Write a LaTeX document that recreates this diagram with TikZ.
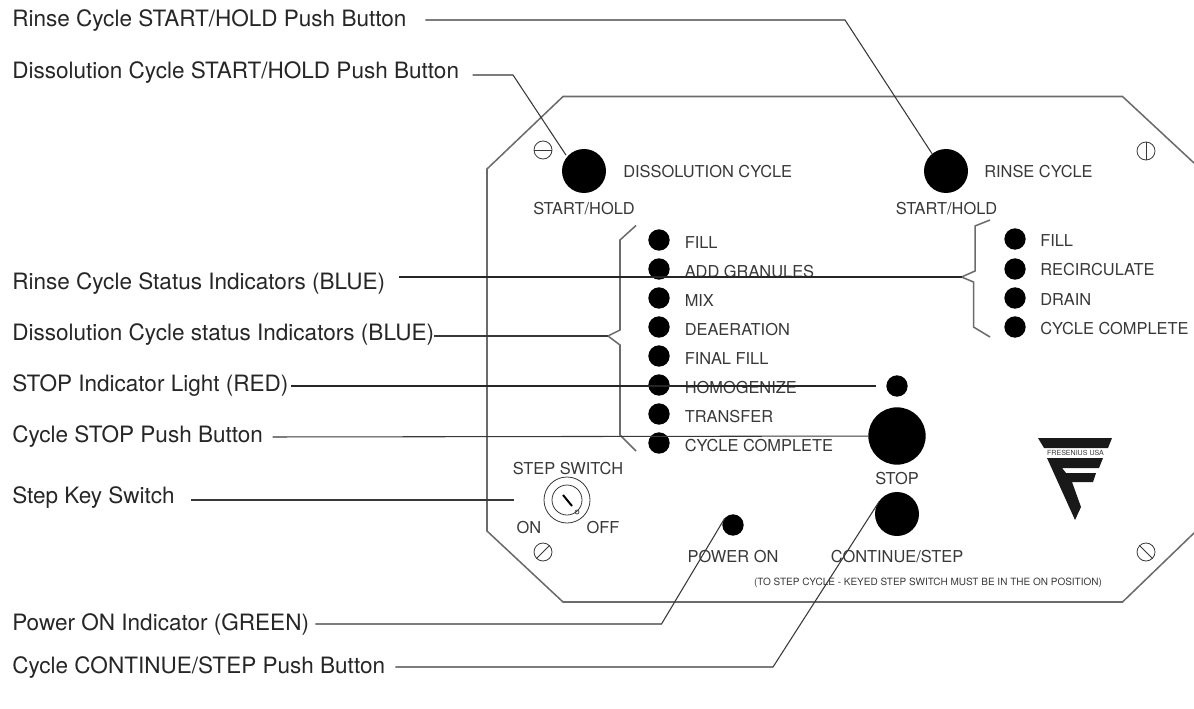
\documentclass[tikz,border=0pt]{standalone}
\usepackage{fontspec}
\setmainfont{TeX Gyre Heros}
\usepackage{tikz}
\usetikzlibrary{positioning}
\definecolor{inkgray}{rgb}{0.22,0.22,0.22}
\definecolor{panelgray}{rgb}{0.42,0.42,0.42}
\tikzset{
  callout/.style={anchor=west,inner sep=0pt,text=black!85,font=\fontsize{16.9}{20}\selectfont},
  plate/.style={anchor=west,inner sep=0pt,text=inkgray,font=\fontsize{12.3}{14}\selectfont},
  platec/.style={plate,anchor=center},
  leader/.style={draw=inkgray,line width=0.8pt},
  strongleader/.style={draw=black!85,line width=0.95pt},
  outline/.style={draw=panelgray,line width=1.15pt},
  lamp/.style={circle,fill=black,inner sep=0pt,outer sep=0pt,minimum size=16pt},
  pushbtn/.style={circle,fill=black,inner sep=0pt,outer sep=0pt,minimum size=33pt},
  screw/.style={circle,draw=inkgray,line width=0.6pt,inner sep=0pt,minimum size=13.5pt}
}
\begin{document}
\begin{tikzpicture}[x=0.75pt,y=0.75pt,yscale=-1,xscale=1]
\useasboundingbox (0,0) rectangle (1194,709);

%Shape: Panel outline
\draw [outline] (1194,163) -- (1122.5,96.5) -- (563,96.5) -- (487,169) -- (487,531) -- (563,602) -- (1122.5,602) -- (1194,533) ;

%Shape: Screws
\draw (543,150) node (screwtl) [screw] {};
\draw (1146,151) node (screwtr) [screw] {};
\draw (543,552) node (screwbl) [screw] {};
\draw (1146,552) node (screwbr) [screw] {};
\draw [inkgray,line width=0.6pt] (screwtl.west) -- (screwtl.east) ;
\draw [inkgray,line width=0.6pt] (screwtr.north) -- (screwtr.south) ;
\draw [inkgray,line width=0.6pt] (screwbl.225) -- (screwbl.45) ;
\draw [inkgray,line width=0.6pt] (screwbr.135) -- (screwbr.315) ;

%Shape: Push buttons
\draw (584,171) node (dissbtn) [pushbtn] {};
\draw (946,171) node (rinsebtn) [pushbtn] {};
\draw (897,436) node (stopbtn) [pushbtn,minimum size=43pt] {};
\draw (897,514) node (contbtn) [pushbtn] {};

%Shape: Dissolution lamps
\draw (659,240) node (dfill) [lamp] {};
\draw (659,269) node (dadd) [lamp] {};
\draw (659,298) node (dmix) [lamp] {};
\draw (659,327) node (ddeaer) [lamp] {};
\draw (659,356) node (dfinal) [lamp] {};
\draw (659,385) node (dhomog) [lamp] {};
\draw (659,414) node (dtrans) [lamp] {};
\draw (659,443) node (dcompl) [lamp] {};

%Shape: Rinse lamps
\draw (1015,239) node (rfill) [lamp] {};
\draw (1015,269) node (rrecirc) [lamp] {};
\draw (1015,298) node (rdrain) [lamp] {};
\draw (1015,327) node (rcompl) [lamp] {};

%Shape: Stop and power lamps
\draw (897,386) node (stoplamp) [lamp] {};
\draw (733,525) node (powerlamp) [lamp] {};

%Shape: Step key switch
\draw (567,500) node (keyswitch) [circle,draw=inkgray,line width=0.6pt,inner sep=0pt,minimum size=34.5pt] {};
\draw (567,500) node (keyinner) [circle,draw=inkgray,line width=0.6pt,inner sep=0pt,minimum size=22.5pt] {};
\draw [black,line width=1.5pt] (563,495) -- (572,506) ;
\draw (577,512) node (keydot) [circle,draw=inkgray,line width=0.5pt,inner sep=0pt,minimum size=3pt] {};

%Shape: Logo
\draw [draw=none,fill=black!90] (1038,438) -- (1112,438) -- (1108,448) -- (1044,448) -- cycle ;
\draw [draw=none,fill=black!90] (1047,458) -- (1103,458) -- (1099,468) -- (1062,468) -- (1066,473) -- (1096,473) -- (1093,482) -- (1072,482) -- (1081,507) -- (1075,520) -- cycle ;
% Text Node
\draw (1075.5,453) node (logotext) [inner sep=0pt,text=inkgray,font=\fontsize{5.3}{6}\selectfont] {FRESENIUS USA};

% Text Node
\draw (623,171.5) node (disstitle) [plate] {DISSOLUTION CYCLE};
\draw (584,208.5) node (disshold) [platec] {START/HOLD};
\draw (984,171.5) node (rinsetitle) [plate] {RINSE CYCLE};
\draw (946.5,208.5) node (rinsehold) [platec] {START/HOLD};
% Text Node
\draw (684.5,243) node (tfill) [plate] {FILL};
\draw (684.5,272) node (tadd) [plate] {ADD GRANULES};
\draw (684.5,301) node (tmix) [plate] {MIX};
\draw (684.5,330) node (tdeaer) [plate] {DEAERATION};
\draw (684.5,359) node (tfinal) [plate] {FINAL FILL};
\draw (684.5,388) node (thomog) [plate] {HOMOGENIZE};
\draw (684.5,417) node (ttrans) [plate] {TRANSFER};
\draw (684.5,446) node (tcompl) [plate] {CYCLE COMPLETE};
% Text Node
\draw (1040,240.5) node (ufill) [plate] {FILL};
\draw (1040,269.5) node (urecirc) [plate] {RECIRCULATE};
\draw (1040,299.5) node (udrain) [plate] {DRAIN};
\draw (1040,328.5) node (ucompl) [plate] {CYCLE COMPLETE};
% Text Node
\draw (897,478.5) node (tstop) [platec] {STOP};
\draw (897,557) node (tcont) [platec] {CONTINUE/STEP};
\draw (733,557) node (tpower) [platec] {POWER ON};
\draw (568,468.5) node (tstep) [platec] {STEP SWITCH};
\draw (529,527.5) node (ton) [platec] {ON};
\draw (603,527.5) node (toff) [platec] {OFF};
\draw (928,583) node (tnote) [inner sep=0pt,text=inkgray,font=\fontsize{7.5}{9}\selectfont] {(TO STEP CYCLE - KEYED STEP SWITCH MUST BE IN THE ON POSITION)};

% Text Node
\draw (12,20.5) node (lblrinsebtn) [callout] {Rinse Cycle START/HOLD Push Button};
\draw (12,72.5) node (lbldissbtn) [callout] {Dissolution Cycle START/HOLD Push Button};
\draw (12,284) node (lblrinsestat) [callout] {Rinse Cycle Status Indicators (BLUE)};
\draw (12,335) node (lbldissstat) [callout] {Dissolution Cycle status Indicators (BLUE)};
\draw (12,386) node (lblstoplamp) [callout] {STOP Indicator Light (RED)};
\draw (12,437) node (lblstopbtn) [callout] {Cycle STOP Push Button};
\draw (12,497.5) node (lblkey) [callout] {Step Key Switch};
\draw (12,624.5) node (lblpower) [callout] {Power ON Indicator (GREEN)};
\draw (12,667.5) node (lblcont) [callout] {Cycle CONTINUE/STEP Push Button};

%Shape: Dissolution bracket
\coordinate (dissbrace) at (608,336);
\draw [outline] (636,225.5) -- (620,240) -- (620,330) -- (dissbrace) -- (620,345) -- (620,435) -- (636,451) ;
%Shape: Rinse bracket
\coordinate (rinsebrace) at (961.5,277);
\draw [outline] (990,220) -- (975,226) -- (975,271) -- (rinsebrace) -- (973.5,282) -- (973.5,327) -- (990,337) ;

% Leaders
\coordinate (rinsebend) at (845,20);
\coordinate (dissbend) at (513,75);
\coordinate (powerbend) at (661.5,624);
\coordinate (contbend) at (773,667);
\draw [leader,shorten <=14pt] (lblrinsebtn.east |- rinsebend) -- (rinsebend) -- (rinsebtn.129) ;
\draw [leader,shorten <=10pt,shorten >=1.5pt] (lbldissbtn.east |- dissbend) -- (dissbend) -- (dissbtn.140) ;
\draw [strongleader,shorten <=10.5pt] (lblrinsestat.east |- rinsebrace) -- (rinsebrace) ;
\draw [leader] (lbldissstat.east |- dissbrace) -- (dissbrace) ;
\draw [strongleader,shorten <=2pt,shorten >=8pt] (lblstoplamp.east |- stoplamp) -- (stoplamp) ;
\draw [leader,shorten <=7pt] (lblstopbtn.east) -- (stopbtn) ;
\draw [leader,shorten <=12pt,shorten >=22pt] (lblkey.east |- keyswitch) -- (keyswitch) ;
\draw [leader,shorten <=4.5pt] (lblpower.east |- powerbend) -- (powerbend) -- (powerlamp.141) ;
\draw [leader,shorten <=7.5pt,shorten >=2pt] (lblcont.east |- contbend) -- (contbend) -- (contbtn.139) ;
\end{tikzpicture}
\end{document}
